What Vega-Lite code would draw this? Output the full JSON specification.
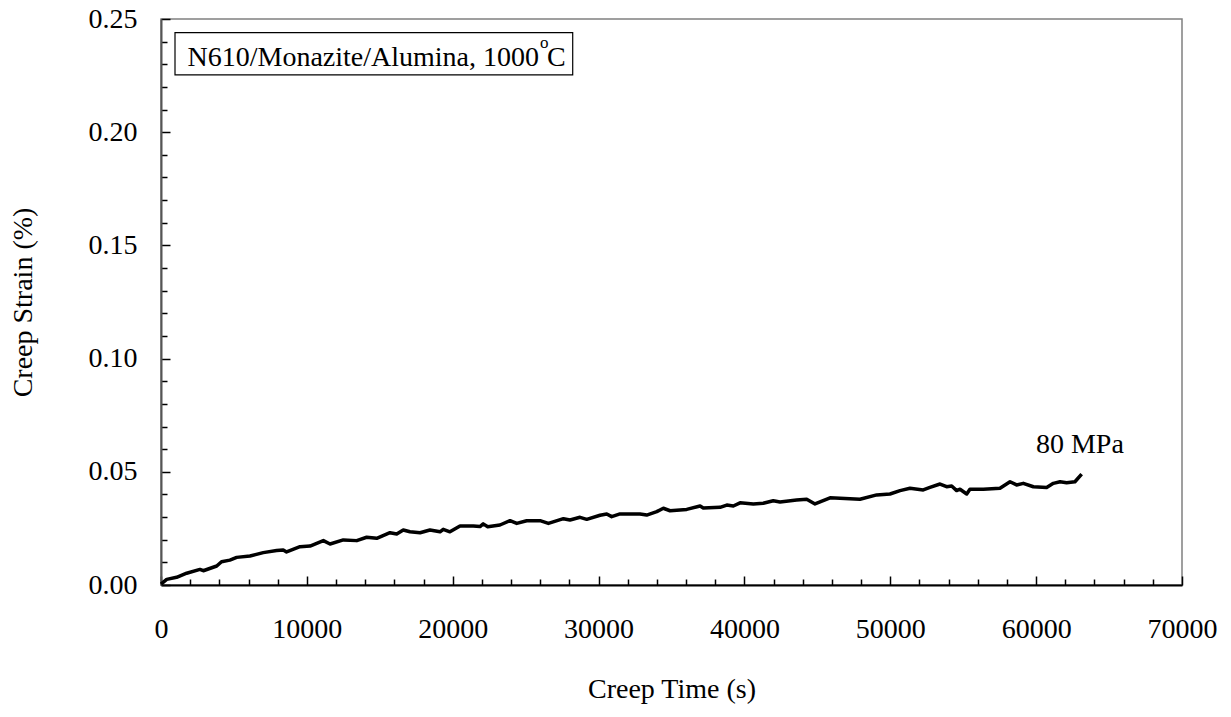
{
  "$schema": "https://vega.github.io/schema/vega-lite/v6.json",
  "width": 1021,
  "height": 566,
  "autosize": {"type": "none"},
  "padding": {"left": 161, "top": 19, "right": 49, "bottom": 132},
  "background": "white",
  "config": {
    "view": {"stroke": "#808080", "strokeWidth": 1.5},
    "axis": {"grid": false, "labelOverlap": false}
  },
  "datasets": {
    "creep": [
      {"t": 0, "s": 0.0004}, {"t": 390, "s": 0.0025}, {"t": 1070, "s": 0.0034}, {"t": 1760, "s": 0.0052},
      {"t": 2670, "s": 0.0069}, {"t": 2900, "s": 0.0063}, {"t": 3820, "s": 0.0084}, {"t": 4150, "s": 0.0103},
      {"t": 4720, "s": 0.0110}, {"t": 5190, "s": 0.0122}, {"t": 6100, "s": 0.0128}, {"t": 7010, "s": 0.0143},
      {"t": 7930, "s": 0.0152}, {"t": 8380, "s": 0.0155}, {"t": 8610, "s": 0.0146}, {"t": 9530, "s": 0.0169},
      {"t": 10220, "s": 0.0172}, {"t": 11130, "s": 0.0196}, {"t": 11590, "s": 0.0181}, {"t": 12500, "s": 0.0199},
      {"t": 13420, "s": 0.0196}, {"t": 14100, "s": 0.0211}, {"t": 14790, "s": 0.0206}, {"t": 15700, "s": 0.0231},
      {"t": 16160, "s": 0.0225}, {"t": 16610, "s": 0.0243}, {"t": 17070, "s": 0.0235}, {"t": 17760, "s": 0.0231},
      {"t": 18440, "s": 0.0243}, {"t": 19130, "s": 0.0235}, {"t": 19350, "s": 0.0246}, {"t": 19810, "s": 0.0235},
      {"t": 20500, "s": 0.0261}, {"t": 21410, "s": 0.0261}, {"t": 21870, "s": 0.0258}, {"t": 22090, "s": 0.0270},
      {"t": 22400, "s": 0.0257}, {"t": 23240, "s": 0.0265}, {"t": 23930, "s": 0.0284}, {"t": 24390, "s": 0.0272},
      {"t": 25070, "s": 0.0284}, {"t": 25990, "s": 0.0284}, {"t": 26560, "s": 0.0272}, {"t": 27590, "s": 0.0293},
      {"t": 28040, "s": 0.0287}, {"t": 28730, "s": 0.0299}, {"t": 29190, "s": 0.0290}, {"t": 30100, "s": 0.0308},
      {"t": 30560, "s": 0.0314}, {"t": 30900, "s": 0.0302}, {"t": 31470, "s": 0.0314}, {"t": 32840, "s": 0.0314},
      {"t": 33300, "s": 0.0309}, {"t": 33990, "s": 0.0324}, {"t": 34440, "s": 0.0339}, {"t": 34900, "s": 0.0328},
      {"t": 36040, "s": 0.0334}, {"t": 36960, "s": 0.0349}, {"t": 37180, "s": 0.0340}, {"t": 38330, "s": 0.0343},
      {"t": 38790, "s": 0.0353}, {"t": 39240, "s": 0.0349}, {"t": 39700, "s": 0.0363}, {"t": 40610, "s": 0.0358},
      {"t": 41290, "s": 0.0361}, {"t": 41980, "s": 0.0372}, {"t": 42440, "s": 0.0367}, {"t": 43580, "s": 0.0375},
      {"t": 44270, "s": 0.0379}, {"t": 44840, "s": 0.0358}, {"t": 45870, "s": 0.0385}, {"t": 47920, "s": 0.0379},
      {"t": 49070, "s": 0.0398}, {"t": 49980, "s": 0.0402}, {"t": 50670, "s": 0.0417}, {"t": 51350, "s": 0.0427},
      {"t": 52260, "s": 0.0420}, {"t": 52720, "s": 0.0431}, {"t": 53410, "s": 0.0446}, {"t": 53860, "s": 0.0434},
      {"t": 54210, "s": 0.0437}, {"t": 54550, "s": 0.0417}, {"t": 54780, "s": 0.0423}, {"t": 55240, "s": 0.0402},
      {"t": 55460, "s": 0.0423}, {"t": 56380, "s": 0.0423}, {"t": 57520, "s": 0.0427}, {"t": 58210, "s": 0.0456},
      {"t": 58660, "s": 0.0442}, {"t": 59120, "s": 0.0449}, {"t": 59810, "s": 0.0434}, {"t": 60720, "s": 0.0431},
      {"t": 61180, "s": 0.0449}, {"t": 61640, "s": 0.0456}, {"t": 62090, "s": 0.0452}, {"t": 62660, "s": 0.0456},
      {"t": 63120, "s": 0.0490}
    ],
    "box": [{"t": 960, "t2": 28227, "s": 0.2253, "s2": 0.2440}],
    "seriesLabel": [{"t": 63000, "s": 0.0582, "label": "80 MPa"}],
    "boxText": [{"t": 25916, "s": 0.2294, "label": "N610/Monazite/Alumina, 1000"}],
    "boxSup": [{"t": 25985, "s": 0.2371, "label": "o"}],
    "boxUnit": [{"t": 26464, "s": 0.2294, "label": "C"}]
  },
  "encoding": {
    "x": {
      "field": "t", "type": "quantitative",
      "scale": {"domain": [0, 70000], "nice": false, "zero": false},
      "axis": {
        "title": "Creep Time (s)",
        "values": [0,2000,4000,6000,8000,10000,12000,14000,16000,18000,20000,22000,24000,26000,28000,30000,32000,34000,36000,38000,40000,42000,44000,46000,48000,50000,52000,54000,56000,58000,60000,62000,64000,66000,68000,70000],
        "labelExpr": "datum.value % 10000 === 0 ? format(datum.value, 'd') : ''",
        "tickSize": {"condition": {"test": "datum.value % 10000 === 0", "value": -9}, "value": -6},
        "tickColor": "black", "tickWidth": 1.5,
        "domainColor": "black", "domainWidth": 2,
        "labelPadding": 61, "labelBaseline": "alphabetic",
        "labelFont": "Liberation Serif", "labelFontSize": 28, "labelColor": "black",
        "labelFlush": false, "labelOverlap": false,
        "titleFont": "Liberation Serif", "titleFontSize": 28, "titleFontWeight": "normal", "titleColor": "black",
        "titleY": 112, "titleBaseline": "alphabetic"
      }
    },
    "y": {
      "field": "s", "type": "quantitative",
      "scale": {"domain": [0, 0.25], "nice": false, "zero": false},
      "axis": {
        "title": "Creep Strain (%)",
        "values": [0,0.01,0.02,0.03,0.04,0.05,0.06,0.07,0.08,0.09,0.1,0.11,0.12,0.13,0.14,0.15,0.16,0.17,0.18,0.19,0.2,0.21,0.22,0.23,0.24,0.25],
        "labelExpr": "round(datum.value * 100) % 5 === 0 ? format(datum.value, '.2f') : ''",
        "tickSize": {"condition": {"test": "round(datum.value * 100) % 5 === 0", "value": -9}, "value": -6},
        "tickColor": "black", "tickWidth": 1.5,
        "domainColor": "#555555", "domainWidth": 2,
        "labelPadding": 33, "labelBaseline": "middle", "labelAlign": "right",
        "labelFont": "Liberation Serif", "labelFontSize": 28, "labelColor": "black",
        "labelFlush": false, "labelOverlap": false,
        "titleFont": "Liberation Serif", "titleFontSize": 28, "titleFontWeight": "normal", "titleColor": "black",
        "titleAngle": -90, "titleX": -130, "titleY": 283, "titleBaseline": "alphabetic", "titleAlign": "center"
      }
    }
  },
  "layer": [
    {
      "data": {"name": "creep"},
      "mark": {"type": "line", "color": "black", "strokeWidth": 3.5, "strokeJoin": "round"}
    },
    {
      "data": {"name": "box"},
      "mark": {"type": "rect", "fill": "white", "stroke": "black", "strokeWidth": 1.2},
      "encoding": {
        "x2": {"field": "t2"},
        "y2": {"field": "s2"}
      }
    },
    {
      "data": {"name": "boxText"},
      "mark": {"type": "text", "font": "Liberation Serif", "fontSize": 28, "color": "black", "align": "right", "baseline": "alphabetic"},
      "encoding": {"text": {"field": "label"}}
    },
    {
      "data": {"name": "boxSup"},
      "mark": {"type": "text", "font": "Liberation Serif", "fontSize": 17, "color": "black", "align": "left", "baseline": "alphabetic"},
      "encoding": {"text": {"field": "label"}}
    },
    {
      "data": {"name": "boxUnit"},
      "mark": {"type": "text", "font": "Liberation Serif", "fontSize": 28, "color": "black", "align": "left", "baseline": "alphabetic"},
      "encoding": {"text": {"field": "label"}}
    },
    {
      "data": {"name": "seriesLabel"},
      "mark": {"type": "text", "font": "Liberation Serif", "fontSize": 28, "color": "black", "align": "center", "baseline": "alphabetic"},
      "encoding": {"text": {"field": "label"}}
    }
  ]
}
